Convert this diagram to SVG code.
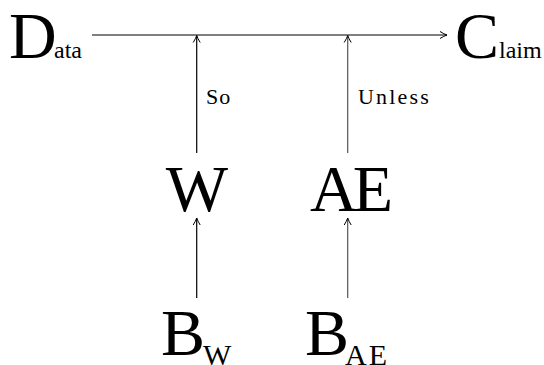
<svg xmlns="http://www.w3.org/2000/svg" width="544" height="365" viewBox="0 0 544 365">
<defs>
<marker id="arr" viewBox="0 0 10 10" refX="9" refY="5" markerWidth="10" markerHeight="10" markerUnits="userSpaceOnUse" orient="auto">
<path d="M2,1.5 Q6,4 9,5 Q6,6 2,8.5" fill="none" stroke="#000" stroke-width="1"/>
</marker>
</defs>
<style>
.c{stroke:#000;stroke-width:1.2;fill:none;marker-end:url(#arr)}
.g{stroke:#555}
</style>
<g id="connectors">
<line class="c" x1="92" y1="35" x2="447" y2="35"/>
<line class="c" x1="196.7" y1="153" x2="196.7" y2="35.5"/>
<line class="c g" x1="347.7" y1="153" x2="347.7" y2="35.5"/>
<line class="c" x1="196.7" y1="298" x2="196.7" y2="218"/>
<line class="c g" x1="347.7" y1="298" x2="347.7" y2="218"/>
<text font-family="Liberation Serif" font-size="22" x="206" y="104" letter-spacing="1">So</text>
<text font-family="Liberation Serif" font-size="22" x="358" y="104" letter-spacing="2.2">Unless</text>
</g>
<g id="data">
<text font-family="Liberation Serif" font-size="66" x="9" y="58">D</text>
<text font-family="Liberation Serif" font-size="24" x="54" y="58">ata</text>
</g>
<g id="claim">
<text font-family="Liberation Serif" font-size="66" x="455" y="58">C</text>
<text font-family="Liberation Serif" font-size="24" x="499" y="58">laim</text>
</g>
<g id="w">
<text font-family="Liberation Serif" font-size="66" x="197" y="211" text-anchor="middle">W</text>
</g>
<g id="ae">
<text font-family="Liberation Serif" font-size="66" x="310" y="211" letter-spacing="-5">AE</text>
</g>
<g id="bw">
<text font-family="Liberation Serif" font-size="66" x="161" y="355">B</text>
<text font-family="Liberation Serif" font-size="30" x="203" y="365">W</text>
</g>
<g id="bae">
<text font-family="Liberation Serif" font-size="66" x="305" y="355">B</text>
<text font-family="Liberation Serif" font-size="30" x="345" y="365" letter-spacing="2">AE</text>
</g>
</svg>
